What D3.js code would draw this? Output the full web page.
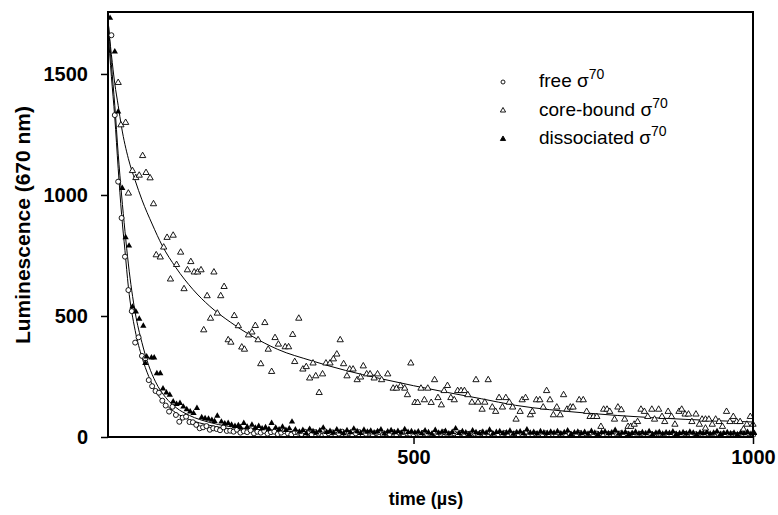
<!DOCTYPE html>
<html>
<head>
<meta charset="utf-8">
<script src="https://cdn.jsdelivr.net/npm/d3@7"></script>
<style>
  body { margin: 0; background: #fff; }
  svg { display: block; font-family: "Liberation Sans", Arial, sans-serif; }
</style>
</head>
<body>
<div id="chart"></div>
<script>
  // DATA (time in µs, luminescence at 670 nm)
  var xDomain = [50, 1000];
  var yDomain = [0, 1756];
  var xTicks = [500, 1000];
  var yTicks = [0, 500, 1000, 1500];

  // free sigma70, early part (open circles)
  var freeEarly = [[55,1660],[60,1330],[65,1055],[70,905],[75,745],[80,607],[85,520],[90,390],[95,412],[100,335],
    [105,325],[110,235],[115,210],[120,190],[125,183],[130,150],[135,130],[140,105],[145,125],[150,91],
    [155,63],[160,80],[165,84],[170,62],[175,61],[180,50],[185,36],[190,40],[195,45],[200,30],
    [205,36],[210,33],[215,28],[220,40],[225,25],[230,26],[235,22],[240,30],[245,18],[250,24],
    [255,20],[260,28],[265,15],[270,22],[275,18],[280,25],[285,14],[290,20],[295,22],[300,12],
    [305,18],[310,25],[315,15],[320,10],[325,20]];

  // dissociated sigma70, early part (filled triangles)
  var dissEarly = [[53,1731],[60,1592],[65,1344],[71,1028],[76,825],[81,790],[86,538],[91,518],[96,488],[102,459],
    [105,305],[107,332],[114,328],[118,328],[122,263],[127,263],[131,200],[136,183],[141,174],[146,146],
    [151,136],[156,140],[161,125],[166,114],[171,105],[176,98],[181,119],[188,81],[193,77],[198,75],
    [203,70],[207,65],[211,87],[217,63],[222,55],[227,57],[232,50],[237,45],[242,48],[245,40],
    [250,57],[255,42],[262,50],[267,38],[272,45],[277,35],[282,40],[287,33],[291,57],[297,38],
    [302,30],[307,42],[312,28],[317,35],[321,63],[326,30]];

  // tails: one reading every 5 µs from 330 µs
  var tailStart = 330, tailStep = 5;
  var freeTail = [18,12,22,15,10,20,14,25,11,16,19,9,14,22,12,17,8,15,20,11,13,18,10,16,21,9,14,12,19,8,15,11,17,13,10,
    14,9,18,12,7,16,11,13,20,8,12,15,10,17,9,13,6,14,11,18,9,12,15,8,10,13,16,7,11,14,9,12,17,8,10,13,6,11,15,9,
    12,8,14,10,6,13,9,11,16,7,10,12,8,14,9,5,11,13,8,10,15,7,12,9,11,6,13,10,8,12,9,14,7,10,11,6,12,9,8,13,
    10,7,11,9,12,6,10,8,13,9,11,7,10,12,8,9,11,6,10,8];
  var dissTail = [21,28,15,33,23,18,26,38,20,24,17,31,22,15,27,19,34,23,16,29,21,25,18,23,30,14,22,27,19,24,17,32,20,23,18,
    22,15,26,19,13,28,17,21,24,14,20,35,16,23,18,12,26,19,15,21,17,29,14,20,23,16,18,25,13,19,22,15,30,17,20,14,23,18,16,21,
    17,23,14,19,26,12,18,21,15,20,13,24,17,11,19,22,15,18,28,13,17,20,12,16,21,14,19,15,23,11,17,20,13,18,16,22,12,15,19,14,
    21,17,11,18,15,20,13,17,23,12,16,19,14,17,11,18,15,20,13,16];

  // core-bound sigma70 (open triangles)
  var coreBound = [[65,1464],[69,1289],[76,1299],[80,1007],[86,1100],[91,1071],[96,1081],[101,1162],[106,1092],[112,1070],
    [117,963],[121,752],[127,743],[132,784],[137,824],[142,652],[146,833],[151,712],[157,763],[162,612],
    [167,690],[172,724],[177,681],[182,681],[187,690],[191,442],[196,583],[201,490],[206,681],[211,511],
    [216,583],[221,621],[227,401],[231,391],[236,501],[242,459],[247,371],[251,362],[257,421],[262,433],
    [267,460],[271,401],[275,302],[281,472],[286,362],[291,270],[296,410],[301,383],[311,372],[316,372],
    [322,423],[325,311],[331,490],[337,280],[342,290],[347,243],[352,305],[356,252],[361,183],[366,260],
    [371,305],[377,305],[382,322],[387,342],[392,401],[397,302],[402,252],[406,280],[411,280],[417,236],
    [422,247],[426,293],[431,260],[436,260],[442,243],[447,260],[453,236],[462,260],[470,201],[475,201],
    [481,211],[487,201],[491,174],[496,305],[502,142],[506,142],[511,201],[516,153],[521,201],[526,142],
    [531,236],[536,162],[541,132],[545,191],[550,212],[555,162],[560,153],[565,191],[570,191],[575,191],
    [580,174],[586,143],[592,236],[595,143],[601,114],[605,143],[610,236],[616,123],[621,105],[626,162],
    [631,123],[636,162],[641,143],[646,123],[651,73],[657,105],[660,153],[665,162],[672,91],[675,105],
    [681,153],[686,153],[691,123],[696,191],[701,153],[706,91],[711,123],[716,91],[721,174],[726,114],
    [731,123],[735,123],[744,153],[750,153],[755,105],[760,84],[765,84],[770,84],[776,43],[780,114],
    [785,114],[789,105],[796,73],[801,123],[806,112],[811,73],[816,43],[820,43],[825,52],[830,63],
    [835,114],[840,105],[845,84],[851,114],[855,73],[861,114],[866,84],[870,63],[875,105],[880,84],
    [885,52],[891,105],[895,114],[900,94],[905,94],[910,63],[916,94],[921,52],[925,73],[930,73],
    [930,36],[935,73],[940,52],[945,73],[950,63],[955,43],[961,105],[966,63],[971,84],[976,63],
    [981,63],[986,32],[991,52],[996,84],[1000,52]];

  // fitted decay curves
  var coreFit = [[50,1720],[55,1580],[60,1460],[65,1370],[70,1280],[80,1150],[90,1060],[100,980],[115,880],[130,790],
    [150,700],[175,610],[200,540],[230,475],[260,420],[300,362],[350,315],[400,275],[450,242],[500,212],
    [550,184],[600,158],[650,131],[700,113],[750,100],[800,89],[850,80],[900,73],[950,67],[1000,62]];
  var freeFit = [[50,1680],[55,1490],[60,1320],[65,1110],[70,920],[75,770],[80,620],[90,440],[100,330],[110,250],
    [120,190],[135,135],[150,100],[170,72],[200,48],[250,28],[300,20],[400,14],[500,12],[700,11],[1000,10]];
  var dissFit = [[50,1730],[55,1540],[60,1370],[65,1170],[70,1000],[75,850],[80,715],[90,515],[100,390],[110,295],
    [120,228],[135,163],[150,122],[170,89],[200,60],[250,36],[300,25],[400,17],[500,14],[700,12],[1000,11]];

  var legendNames = ['free', 'core-bound', 'dissociated'];

  // SVG AND D3 STUFF
  var W = 778, H = 515;
  var margin = {top: 12, right: 25, bottom: 78, left: 108};
  var width = W - margin.left - margin.right;
  var height = H - margin.top - margin.bottom;

  var svg = d3.select('#chart').append('svg')
    .attr('width', W)
    .attr('height', H);

  var g = svg.append('g')
    .attr('transform', 'translate(' + margin.left + ',' + margin.top + ')');

  var x = d3.scaleLinear().domain(xDomain).range([0, width]);
  var y = d3.scaleLinear().domain(yDomain).range([height, 0]);

  g.append('clipPath').attr('id', 'plotclip')
    .append('rect').attr('x', 0).attr('y', -4).attr('width', width + 4).attr('height', height + 4);

  var freePts = freeEarly.concat(freeTail.map(function(v, i) { return [tailStart + i * tailStep, v]; }));
  var dissPts = dissEarly.concat(dissTail.map(function(v, i) { return [tailStart + i * tailStep + 2, v]; }));

  var plot = g.append('g').attr('clip-path', 'url(#plotclip)');

  // fit lines
  var line = d3.line()
    .x(function(d) { return x(d[0]); })
    .y(function(d) { return y(d[1]); })
    .curve(d3.curveMonotoneX);

  [coreFit, freeFit, dissFit].forEach(function(f) {
    plot.append('path')
      .datum(f)
      .attr('d', line)
      .attr('fill', 'none')
      .attr('stroke', '#000')
      .attr('stroke-width', 1);
  });

  var tri = d3.symbol().type(d3.symbolTriangle).size(17);

  // free: open circles
  plot.append('g').selectAll('circle')
    .data(freePts).enter()
    .append('circle')
    .attr('cx', function(d) { return x(d[0]); })
    .attr('cy', function(d) { return y(d[1]); })
    .attr('r', 2.5)
    .attr('fill', '#fff')
    .attr('stroke', '#000')
    .attr('stroke-width', 0.9);

  // dissociated: filled triangles
  plot.append('g').selectAll('path')
    .data(dissPts).enter()
    .append('path')
    .attr('d', tri)
    .attr('transform', function(d) { return 'translate(' + x(d[0]) + ',' + y(d[1]) + ')'; })
    .attr('fill', '#000');

  // core-bound: open triangles
  plot.append('g').selectAll('path')
    .data(coreBound).enter()
    .append('path')
    .attr('d', tri)
    .attr('transform', function(d) { return 'translate(' + x(d[0]) + ',' + y(d[1]) + ')'; })
    .attr('fill', '#fff')
    .attr('stroke', '#000')
    .attr('stroke-width', 0.9);

  // axes
  var xAxis = g.append('g')
    .attr('transform', 'translate(0,' + height + ')')
    .call(d3.axisBottom(x).tickValues(xTicks).tickFormat(d3.format('d')).tickSize(7).tickPadding(6));
  var yAxis = g.append('g')
    .call(d3.axisLeft(y).tickValues(yTicks).tickFormat(d3.format('d')).tickSize(7).tickPadding(13));

  [xAxis, yAxis].forEach(function(a) {
    a.select('.domain').remove();
    a.selectAll('.tick line').attr('stroke', '#000').attr('stroke-width', 1.5);
    a.selectAll('.tick text')
      .attr('fill', '#000')
      .style('font-size', '20px')
      .style('font-weight', 'bold')
      .style('font-family', '"Liberation Sans", Arial, sans-serif');
  });

  // frame
  g.append('rect')
    .attr('x', 0).attr('y', 0)
    .attr('width', width).attr('height', height)
    .attr('fill', 'none')
    .attr('stroke', '#000')
    .attr('stroke-width', 2);

  // axis labels
  svg.append('text')
    .attr('transform', 'translate(30,' + (margin.top + 213) + ')rotate(-90)')
    .attr('text-anchor', 'middle')
    .style('font-size', '21px')
    .style('font-weight', 'bold')
    .text('Luminescence (670 nm)');

  svg.append('text')
    .attr('x', 426).attr('y', 505)
    .attr('text-anchor', 'middle')
    .style('font-size', '18px')
    .style('font-weight', 'bold')
    .text('time (\u00b5s)');

  // legend
  var legend = svg.append('g').attr('transform', 'translate(503,82)');
  var rows = legend.selectAll('g.row')
    .data(legendNames).enter()
    .append('g')
    .attr('class', 'row')
    .attr('transform', function(d, i) { return 'translate(0,' + (i * 28.5) + ')'; });

  rows.each(function(d, i) {
    var r = d3.select(this);
    if (i === 0) {
      r.append('circle').attr('r', 2).attr('fill', '#fff').attr('stroke', '#000').attr('stroke-width', 0.9);
    } else {
      r.append('path').attr('d', d3.symbol().type(d3.symbolTriangle).size(12))
        .attr('fill', i === 2 ? '#000' : '#fff')
        .attr('stroke', '#000').attr('stroke-width', 0.9);
    }
    var t = r.append('text')
      .attr('x', 36).attr('y', 5)
      .style('font-size', '19px');
    t.append('tspan').text(d + ' \u03c3');
    t.append('tspan').attr('dy', -8).style('font-size', '14px').text('70');
  });
</script>
</body>
</html>
